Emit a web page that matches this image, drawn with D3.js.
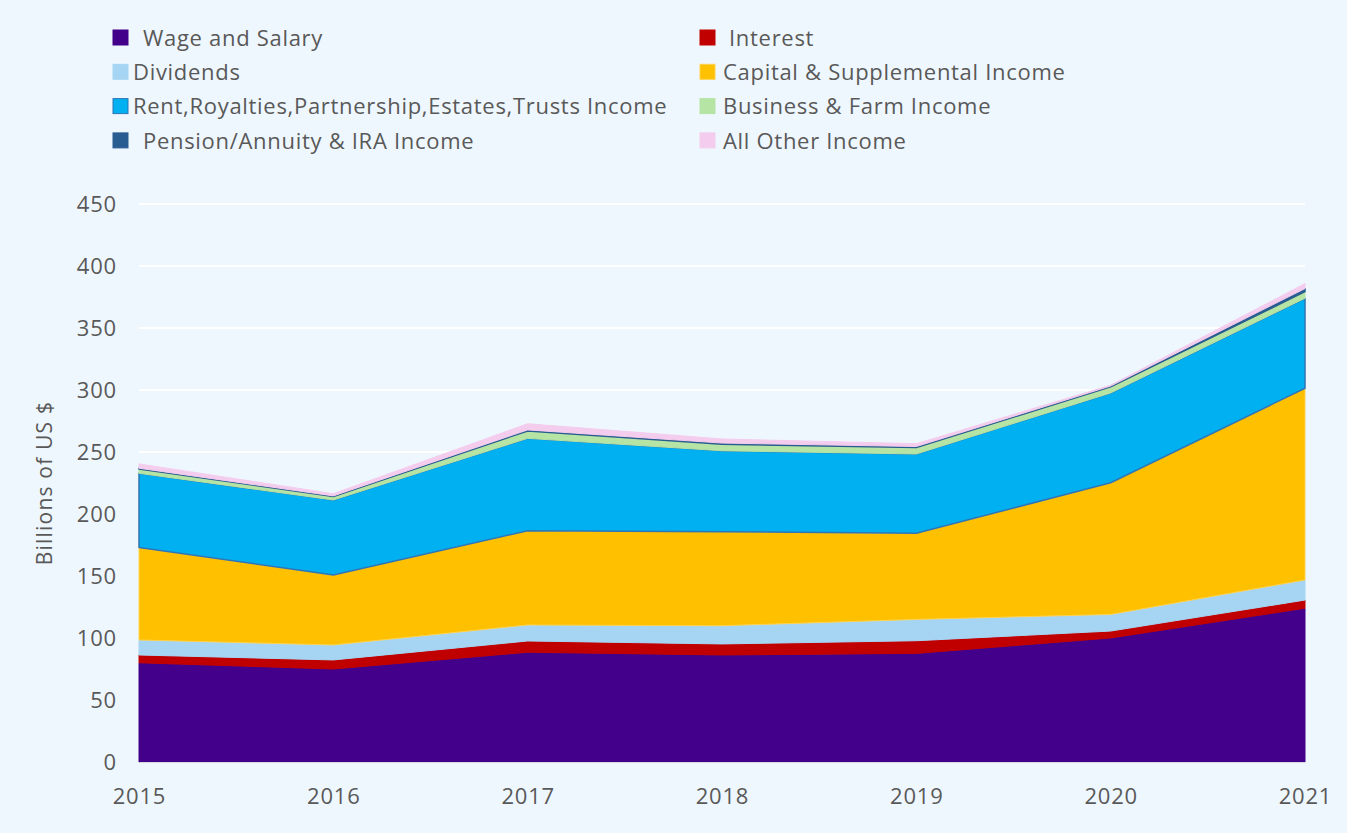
<!DOCTYPE html>
<html>
<head>
<meta charset="utf-8">
<script src="https://cdn.jsdelivr.net/npm/d3@7"></script>
<style>
  body { margin: 0; background: #eff7fe; }
  svg { display: block; font-family: "Open Sans", "Noto Sans", sans-serif; }
</style>
</head>
<body>
<svg id="chart"></svg>
<script>
// years on the x axis
const years = [2015, 2016, 2017, 2018, 2019, 2020, 2021];

// series values (billions of US $)
const wage = [80, 75, 88.5, 86.3, 87.6, 100, 124];
const interest = [6.3, 7.3, 9.1, 8.9, 10.2, 5.6, 6.6];
const dividends = [12.1, 12.1, 12.9, 14.7, 17.2, 13.4, 16.2];
const capital = [74.6, 56.4, 76, 75.8, 69.4, 106.2, 154.6];
const rent = [59.8, 60.5, 74.5, 65.3, 64, 72.4, 72.6];
const business = [3.5, 2.8, 6, 5.2, 5.2, 5, 5.3];
const pension = [0.6, 0.5, 0.8, 1, 0.8, 0.6, 2.5];
const other = [3.5, 1.8, 5, 3.3, 2.3, 0.7, 4];

const yTicks = [0, 50, 100, 150, 200, 250, 300, 350, 400, 450];

const seriesNames = ["Wage and Salary", "Interest", "Dividends", "Capital & Supplemental Income",
  "Rent,Royalties,Partnership,Estates,Trusts Income", "Business & Farm Income",
  "Pension/Annuity & IRA Income", "All Other Income"];
const seriesValues = [wage, interest, dividends, capital, rent, business, pension, other];

const fills = ["#43008a", "#c00000", "#a6d5f3", "#ffc000", "#00b0f0", "#b5e4a5", "#285d91", "#f4cdee"];
const strokes = ["#43008a", "#c00000", "#a6d5f3", "#ffd24d", "#2e75b6", "#b5e4a5", "#285d91", "#f4cdee"];

const width = 1347, height = 833;
const margin = { top: 204, right: 42, bottom: 71, left: 139 };

const svg = d3.select("#chart")
  .attr("width", width)
  .attr("height", height);

svg.append("rect")
  .attr("width", width).attr("height", height)
  .attr("fill", "#eff7fe");

// build table for the stack
const table = years.map((y, i) => {
  let row = { year: y };
  seriesNames.forEach((n, k) => { row[n] = seriesValues[k][i]; });
  return row;
});

const stack = d3.stack().keys(seriesNames);
const layers = stack(table);

const x = d3.scaleLinear()
  .domain([2015, 2021])
  .range([margin.left, width - margin.right]);

const y = d3.scaleLinear()
  .domain([0, 450])
  .range([height - margin.bottom, margin.top]);

// gridlines
svg.append("g")
  .selectAll("line")
  .data(yTicks)
  .enter()
  .append("line")
  .attr("x1", margin.left)
  .attr("x2", width - margin.right)
  .attr("y1", d => y(d))
  .attr("y2", d => y(d))
  .attr("stroke", "#ffffff")
  .attr("stroke-width", 2);

const area = d3.area()
  .x(d => x(d.data.year))
  .y0(d => y(d[0]))
  .y1(d => y(d[1]));

svg.append("g")
  .selectAll("path")
  .data(layers)
  .enter()
  .append("path")
  .attr("d", area)
  .attr("fill", (d, i) => fills[i])
  .attr("stroke", (d, i) => strokes[i])
  .attr("stroke-width", (d, i) => i == 4 || i == 6 ? 1.5 : 1)
  .attr("stroke-linejoin", "round");

// y axis
const yAxis = svg.append("g")
  .attr("transform", "translate(" + (margin.left - 22) + ",0)")
  .call(d3.axisLeft(y).tickValues(yTicks).tickSize(0).tickPadding(0));
yAxis.select(".domain").remove();
yAxis.selectAll("text")
  .attr("font-size", 22)
  .attr("letter-spacing", "0.8px")
  .attr("font-family", "Open Sans, sans-serif")
  .attr("fill", "#595959");

// x axis
const xAxis = svg.append("g")
  .attr("transform", "translate(0," + (height - margin.bottom) + ")")
  .call(d3.axisBottom(x).tickValues(years).tickFormat(d3.format("d")).tickSize(0).tickPadding(26));
xAxis.select(".domain").attr("stroke", "#d9d9d9");
xAxis.selectAll("text")
  .attr("font-size", 22)
  .attr("letter-spacing", "0.8px")
  .attr("font-family", "Open Sans, sans-serif")
  .attr("fill", "#595959");

// y axis title
svg.append("text")
  .attr("transform", "translate(52," + (margin.top + (height - margin.bottom - margin.top) / 2) + ") rotate(-90)")
  .attr("text-anchor", "middle")
  .attr("font-size", 21)
  .attr("letter-spacing", "1.2px")
  .attr("fill", "#595959")
  .text("Billions of US $");

// legend, two columns
const legendPos = [
  { mx: 113, tx: 143 }, { mx: 700, tx: 729 },
  { mx: 113, tx: 133 }, { mx: 700, tx: 723 },
  { mx: 113, tx: 133 }, { mx: 700, tx: 723 },
  { mx: 113, tx: 143 }, { mx: 700, tx: 723 }
];
const legend = svg.append("g");
const item = legend.selectAll("g")
  .data(seriesNames)
  .enter()
  .append("g")
  .attr("transform", (d, i) => "translate(0," + (38 + Math.floor(i / 2) * 34.3) + ")");

item.append("rect")
  .attr("x", (d, i) => legendPos[i].mx)
  .attr("y", -8)
  .attr("width", 15)
  .attr("height", 15)
  .attr("fill", (d, i) => fills[i])
  .attr("stroke", (d, i) => strokes[i])
  .attr("stroke-width", 1);

item.append("text")
  .attr("x", (d, i) => legendPos[i].tx)
  .attr("y", 0)
  .attr("dy", "0.35em")
  .attr("font-size", 22)
  .attr("letter-spacing", "0.7px")
  .attr("fill", "#595959")
  .text(d => d);
</script>
</body>
</html>
